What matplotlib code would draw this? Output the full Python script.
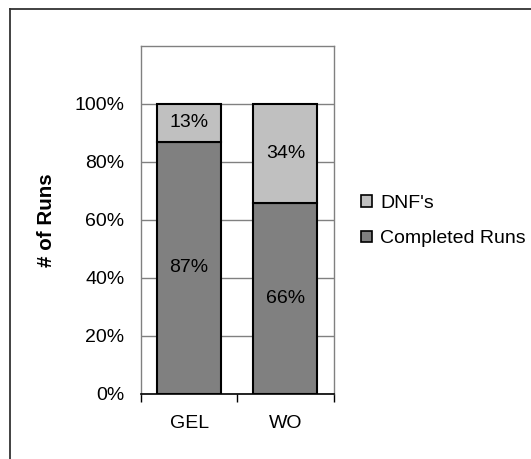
import matplotlib
matplotlib.use("Agg")
import matplotlib.pyplot as plt
from matplotlib.lines import Line2D
from matplotlib.patches import Patch
import numpy as np

categories = ["GEL", "WO"]
completed = [0.87, 0.66]
dnf = [0.13, 0.34]
completed_labels = ["87%", "66%"]
dnf_labels = ["13%", "34%"]
yticks = [0, 0.2, 0.4, 0.6, 0.8, 1.0]
ytick_labels = ["0%", "20%", "40%", "60%", "80%", "100%"]

plt.rcParams['font.family'] = ['Liberation Sans', 'DejaVu Sans']
FS = 14

fig = plt.figure(figsize=(5.31, 4.59), dpi=100)
fig.patch.set_facecolor('white')

W, H = 531, 459
ax = fig.add_axes([141 / W, (H - 394) / H, (333.5 - 141) / W, (394 - 46) / H])

x = np.arange(len(categories))
dark = '#808080'
light = '#C0C0C0'
ax.bar(x, completed, width=0.667, color=dark, edgecolor='black', linewidth=1.5, zorder=3)
ax.bar(x, dnf, bottom=completed, width=0.667, color=light, edgecolor='black', linewidth=1.5, zorder=3)

for i in range(len(categories)):
    ax.text(x[i], completed[i] / 2, completed_labels[i], ha='center', va='center', fontsize=FS, zorder=4)
    ax.text(x[i], completed[i] + dnf[i] / 2, dnf_labels[i], ha='center', va='center', fontsize=FS, zorder=4)

ax.set_xlim(-0.5, 1.5)
ax.set_ylim(0, 1.2)
ax.set_yticks(yticks)
ax.set_yticklabels(ytick_labels, fontsize=FS)
ax.tick_params(axis='y', length=0, pad=12)
ax.yaxis.grid(True, color='#808080', linewidth=1.0, zorder=0)
ax.set_axisbelow(True)

ax.set_xticks([-0.5, 0.5, 1.5], minor=False)
ax.set_xticklabels(["", "", ""])
ax.set_xticks(x, minor=True)
ax.set_xticklabels(categories, minor=True, fontsize=FS)
ax.tick_params(axis='x', which='major', length=6, width=1.0, color='black', direction='out')
ax.tick_params(axis='x', which='minor', length=0, pad=15)

for s in ['left', 'top', 'right']:
    ax.spines[s].set_color('#808080')
    ax.spines[s].set_linewidth(1.0)
ax.spines['bottom'].set_color('black')
ax.spines['bottom'].set_linewidth(1.2)

fig.text(47 / W, (H - 220) / H, "# of Runs", fontsize=14.8, fontweight='bold',
         rotation=90, ha='center', va='center')

handles = [Patch(facecolor=light, edgecolor='black', linewidth=1.2),
           Patch(facecolor=dark, edgecolor='black', linewidth=1.2)]
leg = fig.legend(handles, ["DNF's", "Completed Runs"], loc='center left',
                 bbox_to_anchor=(361 / W, (H - 221) / H), frameon=False,
                 fontsize=FS, handlelength=0.55, handleheight=0.55, handletextpad=0.45,
                 labelspacing=0.95, borderaxespad=0, borderpad=0)

# outer border (top and left edges visible)
fig.add_artist(Line2D([10 / W, 10 / W], [0, (H - 9) / H], color='#333333', linewidth=1.3,
                      transform=fig.transFigure))
fig.add_artist(Line2D([10 / W, 1], [(H - 9) / H, (H - 9) / H], color='#333333', linewidth=1.3,
                      transform=fig.transFigure))

fig.savefig("out.png", dpi=100, facecolor='white')
